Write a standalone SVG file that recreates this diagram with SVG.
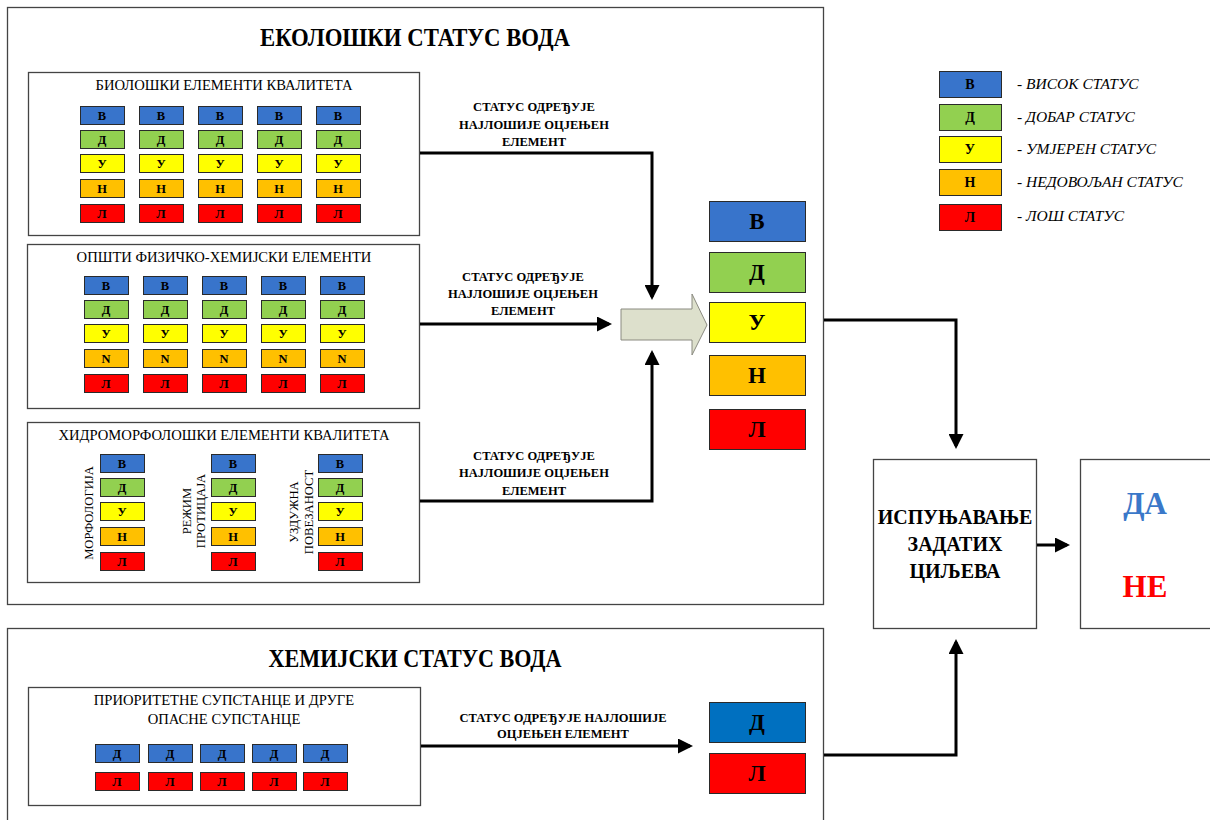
<svg xmlns="http://www.w3.org/2000/svg" width="1210" height="820" viewBox="0 0 1210 820">
<defs>
<style>
text{font-family:"Liberation Serif","DejaVu Serif",serif;fill:#000}
.frame{fill:#fff;stroke:#444;stroke-width:1.3}
.cell{stroke:#2a2a2a;stroke-width:1}
.b{fill:#3874CB}.g{fill:#92D050}.y{fill:#FFFF00}.o{fill:#FFC000}.r{fill:#FF0000}.cb{fill:#0070C0}
.ct{font-size:12.5px;font-weight:bold;text-anchor:middle}
.lt{font-size:14px;font-weight:bold;text-anchor:middle}
.big{font-size:23px;font-weight:bold;text-anchor:middle}
.title{font-size:25px;font-weight:bold;text-anchor:middle}
.sub{font-size:14.6px;text-anchor:middle}
.rot{font-size:12.6px;text-anchor:middle}
.lbl{font-size:12.5px;font-weight:bold;text-anchor:middle}
.leg{font-size:15.5px;font-style:italic}
.goal{font-size:20px;font-weight:bold;text-anchor:middle}
.con{fill:none;stroke:#000;stroke-width:3}
</style>
<marker id="ah" markerWidth="5" markerHeight="5" refX="4" refY="2.5" orient="auto" markerUnits="strokeWidth">
<path d="M0,0 L5,2.5 L0,5 z" fill="#000"/>
</marker>
</defs>
<rect width="1210" height="820" fill="#fff"/>

<g id="eco-status">
<rect class="frame" x="7.5" y="7.5" width="816" height="597"/>
<text class="title" x="415" y="46" textLength="310" lengthAdjust="spacingAndGlyphs">ЕКОЛОШКИ СТАТУС ВОДА</text>
</g>

<g id="bio">
<rect class="frame" x="28.5" y="72.5" width="391" height="163"/>
<text class="sub" x="224" y="90">БИОЛОШКИ ЕЛЕМЕНТИ КВАЛИТЕТА</text>
<g id="bio-cells">
<rect class="cell b" x="80.5" y="106.5" width="44" height="18"/><rect class="cell b" x="139.5" y="106.5" width="44" height="18"/><rect class="cell b" x="198.5" y="106.5" width="44" height="18"/><rect class="cell b" x="257.5" y="106.5" width="44" height="18"/><rect class="cell b" x="316.5" y="106.5" width="44" height="18"/>
<rect class="cell g" x="80.5" y="130.5" width="44" height="18"/><rect class="cell g" x="139.5" y="130.5" width="44" height="18"/><rect class="cell g" x="198.5" y="130.5" width="44" height="18"/><rect class="cell g" x="257.5" y="130.5" width="44" height="18"/><rect class="cell g" x="316.5" y="130.5" width="44" height="18"/>
<rect class="cell y" x="80.5" y="154.5" width="44" height="18"/><rect class="cell y" x="139.5" y="154.5" width="44" height="18"/><rect class="cell y" x="198.5" y="154.5" width="44" height="18"/><rect class="cell y" x="257.5" y="154.5" width="44" height="18"/><rect class="cell y" x="316.5" y="154.5" width="44" height="18"/>
<rect class="cell o" x="80.5" y="179.5" width="44" height="18"/><rect class="cell o" x="139.5" y="179.5" width="44" height="18"/><rect class="cell o" x="198.5" y="179.5" width="44" height="18"/><rect class="cell o" x="257.5" y="179.5" width="44" height="18"/><rect class="cell o" x="316.5" y="179.5" width="44" height="18"/>
<rect class="cell r" x="80.5" y="204.5" width="44" height="18"/><rect class="cell r" x="139.5" y="204.5" width="44" height="18"/><rect class="cell r" x="198.5" y="204.5" width="44" height="18"/><rect class="cell r" x="257.5" y="204.5" width="44" height="18"/><rect class="cell r" x="316.5" y="204.5" width="44" height="18"/>
<text class="ct" x="102" y="120">В</text><text class="ct" x="161" y="120">В</text><text class="ct" x="220" y="120">В</text><text class="ct" x="279" y="120">В</text><text class="ct" x="338" y="120">В</text>
<text class="ct" x="102" y="144">Д</text><text class="ct" x="161" y="144">Д</text><text class="ct" x="220" y="144">Д</text><text class="ct" x="279" y="144">Д</text><text class="ct" x="338" y="144">Д</text>
<text class="ct" x="102" y="168">У</text><text class="ct" x="161" y="168">У</text><text class="ct" x="220" y="168">У</text><text class="ct" x="279" y="168">У</text><text class="ct" x="338" y="168">У</text>
<text class="ct" x="102" y="193">Н</text><text class="ct" x="161" y="193">Н</text><text class="ct" x="220" y="193">Н</text><text class="ct" x="279" y="193">Н</text><text class="ct" x="338" y="193">Н</text>
<text class="ct" x="102" y="218">Л</text><text class="ct" x="161" y="218">Л</text><text class="ct" x="220" y="218">Л</text><text class="ct" x="279" y="218">Л</text><text class="ct" x="338" y="218">Л</text>
</g>
</g>

<g id="physchem">
<rect class="frame" x="27.5" y="244.5" width="392" height="164"/>
<text class="sub" x="224" y="262">ОПШТИ ФИЗИЧКО-ХЕМИЈСКИ ЕЛЕМЕНТИ</text>
<g id="phys-cells">
<rect class="cell b" x="84.5" y="276.5" width="44" height="18"/><rect class="cell b" x="143.5" y="276.5" width="44" height="18"/><rect class="cell b" x="202.5" y="276.5" width="44" height="18"/><rect class="cell b" x="261.5" y="276.5" width="44" height="18"/><rect class="cell b" x="320.5" y="276.5" width="44" height="18"/>
<rect class="cell g" x="84.5" y="300.5" width="44" height="18"/><rect class="cell g" x="143.5" y="300.5" width="44" height="18"/><rect class="cell g" x="202.5" y="300.5" width="44" height="18"/><rect class="cell g" x="261.5" y="300.5" width="44" height="18"/><rect class="cell g" x="320.5" y="300.5" width="44" height="18"/>
<rect class="cell y" x="84.5" y="324.5" width="44" height="18"/><rect class="cell y" x="143.5" y="324.5" width="44" height="18"/><rect class="cell y" x="202.5" y="324.5" width="44" height="18"/><rect class="cell y" x="261.5" y="324.5" width="44" height="18"/><rect class="cell y" x="320.5" y="324.5" width="44" height="18"/>
<rect class="cell o" x="84.5" y="349.5" width="44" height="18"/><rect class="cell o" x="143.5" y="349.5" width="44" height="18"/><rect class="cell o" x="202.5" y="349.5" width="44" height="18"/><rect class="cell o" x="261.5" y="349.5" width="44" height="18"/><rect class="cell o" x="320.5" y="349.5" width="44" height="18"/>
<rect class="cell r" x="84.5" y="374.5" width="44" height="18"/><rect class="cell r" x="143.5" y="374.5" width="44" height="18"/><rect class="cell r" x="202.5" y="374.5" width="44" height="18"/><rect class="cell r" x="261.5" y="374.5" width="44" height="18"/><rect class="cell r" x="320.5" y="374.5" width="44" height="18"/>
<text class="ct" x="106" y="290">В</text><text class="ct" x="165" y="290">В</text><text class="ct" x="224" y="290">В</text><text class="ct" x="283" y="290">В</text><text class="ct" x="342" y="290">В</text>
<text class="ct" x="106" y="314">Д</text><text class="ct" x="165" y="314">Д</text><text class="ct" x="224" y="314">Д</text><text class="ct" x="283" y="314">Д</text><text class="ct" x="342" y="314">Д</text>
<text class="ct" x="106" y="338">У</text><text class="ct" x="165" y="338">У</text><text class="ct" x="224" y="338">У</text><text class="ct" x="283" y="338">У</text><text class="ct" x="342" y="338">У</text>
<text class="ct" x="106" y="363">N</text><text class="ct" x="165" y="363">N</text><text class="ct" x="224" y="363">N</text><text class="ct" x="283" y="363">N</text><text class="ct" x="342" y="363">N</text>
<text class="ct" x="106" y="388">Л</text><text class="ct" x="165" y="388">Л</text><text class="ct" x="224" y="388">Л</text><text class="ct" x="283" y="388">Л</text><text class="ct" x="342" y="388">Л</text>
</g>
</g>

<g id="hydromorph">
<rect class="frame" x="27.5" y="422.5" width="392" height="160"/>
<text class="sub" x="224" y="440">ХИДРОМОРФОЛОШКИ ЕЛЕМЕНТИ КВАЛИТЕТА</text>
<text class="rot" transform="translate(93,513) rotate(-90)">МОРФОЛОГИЈА</text>
<text class="rot" transform="translate(191,511) rotate(-90)">РЕЖИМ</text>
<text class="rot" transform="translate(205,511) rotate(-90)">ПРОТИЦАЈА</text>
<text class="rot" transform="translate(298,512) rotate(-90)">УЗДУЖНА</text>
<text class="rot" transform="translate(313,512) rotate(-90)">ПОВЕЗАНОСТ</text>
<g id="hydro-cells">
<rect class="cell b" x="100.5" y="454.5" width="44" height="18"/><rect class="cell b" x="211.5" y="454.5" width="44" height="18"/><rect class="cell b" x="318.5" y="454.5" width="44" height="18"/>
<rect class="cell g" x="100.5" y="478.5" width="44" height="18"/><rect class="cell g" x="211.5" y="478.5" width="44" height="18"/><rect class="cell g" x="318.5" y="478.5" width="44" height="18"/>
<rect class="cell y" x="100.5" y="502.5" width="44" height="18"/><rect class="cell y" x="211.5" y="502.5" width="44" height="18"/><rect class="cell y" x="318.5" y="502.5" width="44" height="18"/>
<rect class="cell o" x="100.5" y="527.5" width="44" height="18"/><rect class="cell o" x="211.5" y="527.5" width="44" height="18"/><rect class="cell o" x="318.5" y="527.5" width="44" height="18"/>
<rect class="cell r" x="100.5" y="552.5" width="44" height="18"/><rect class="cell r" x="211.5" y="552.5" width="44" height="18"/><rect class="cell r" x="318.5" y="552.5" width="44" height="18"/>
<text class="ct" x="122" y="468">В</text><text class="ct" x="233" y="468">В</text><text class="ct" x="340" y="468">В</text>
<text class="ct" x="122" y="492">Д</text><text class="ct" x="233" y="492">Д</text><text class="ct" x="340" y="492">Д</text>
<text class="ct" x="122" y="516">У</text><text class="ct" x="233" y="516">У</text><text class="ct" x="340" y="516">У</text>
<text class="ct" x="122" y="541">Н</text><text class="ct" x="233" y="541">Н</text><text class="ct" x="340" y="541">Н</text>
<text class="ct" x="122" y="566">Л</text><text class="ct" x="233" y="566">Л</text><text class="ct" x="340" y="566">Л</text>
</g>
</g>

<g id="block-arrow">
<path d="M621,309 L692,309 L692,294 L707,325 L692,355 L692,340 L621,340 Z" fill="#DDE0CC" stroke="#8a8a80" stroke-width="1"/>
</g>

<g id="eco-result">
<rect class="cell b" x="709.5" y="201.5" width="96" height="40"/>
<rect class="cell g" x="709.5" y="252.5" width="96" height="40"/>
<rect class="cell y" x="709.5" y="302.5" width="96" height="40"/>
<rect class="cell o" x="709.5" y="355.5" width="96" height="40"/>
<rect class="cell r" x="709.5" y="409.5" width="96" height="40"/>
<text class="big" x="757" y="229">В</text>
<text class="big" x="757" y="280">Д</text>
<text class="big" x="757" y="330">У</text>
<text class="big" x="757" y="383">Н</text>
<text class="big" x="757" y="437">Л</text>
</g>

<g id="legend">
<rect class="cell b" x="939.5" y="71.5" width="62" height="26"/>
<rect class="cell g" x="939.5" y="104.5" width="62" height="26"/>
<rect class="cell y" x="939.5" y="136.5" width="62" height="26"/>
<rect class="cell o" x="939.5" y="169.5" width="62" height="26"/>
<rect class="cell r" x="939.5" y="204.5" width="62" height="26"/>
<text class="lt" x="970" y="89">В</text>
<text class="lt" x="970" y="122">Д</text>
<text class="lt" x="970" y="154">У</text>
<text class="lt" x="970" y="187">Н</text>
<text class="lt" x="970" y="222">Л</text>
<text class="leg" x="1017" y="89">- ВИСОК СТАТУС</text>
<text class="leg" x="1017" y="122">- ДОБАР СТАТУС</text>
<text class="leg" x="1017" y="154">- УМЈЕРЕН СТАТУС</text>
<text class="leg" x="1017" y="187">- НЕДОВОЉАН СТАТУС</text>
<text class="leg" x="1017" y="221">- ЛОШ СТАТУС</text>
</g>

<g id="goal">
<rect class="frame" x="873.5" y="459.5" width="163" height="169"/>
<text class="goal" x="955" y="524">ИСПУЊАВАЊЕ</text>
<text class="goal" x="955" y="551">ЗАДАТИХ</text>
<text class="goal" x="955" y="578">ЦИЉЕВА</text>
</g>

<g id="yes-no">
<rect class="frame" x="1080.5" y="459.5" width="135" height="169"/>
<text x="1145" y="514" font-size="31" font-weight="bold" text-anchor="middle" style="fill:#3A78C9">ДА</text>
<text x="1145" y="597" font-size="31" font-weight="bold" text-anchor="middle" style="fill:#FF0000">НЕ</text>
</g>

<g id="chem-status">
<rect class="frame" x="7.5" y="628.5" width="816" height="200"/>
<text class="title" x="415" y="667" textLength="293" lengthAdjust="spacingAndGlyphs">ХЕМИЈСКИ СТАТУС ВОДА</text>
</g>

<g id="priority">
<rect class="frame" x="28.5" y="687.5" width="392" height="118"/>
<text class="sub" x="224" y="705">ПРИОРИТЕТНЕ СУПСТАНЦЕ И ДРУГЕ</text>
<text class="sub" x="224" y="724">ОПАСНЕ СУПСТАНЦЕ</text>
<rect class="cell b" x="95.5" y="744.5" width="44" height="18"/><rect class="cell b" x="148.5" y="744.5" width="44" height="18"/><rect class="cell b" x="200.5" y="744.5" width="44" height="18"/><rect class="cell b" x="252.5" y="744.5" width="44" height="18"/><rect class="cell b" x="303.5" y="744.5" width="44" height="18"/>
<rect class="cell r" x="95.5" y="772.5" width="44" height="18"/><rect class="cell r" x="148.5" y="772.5" width="44" height="18"/><rect class="cell r" x="200.5" y="772.5" width="44" height="18"/><rect class="cell r" x="252.5" y="772.5" width="44" height="18"/><rect class="cell r" x="303.5" y="772.5" width="44" height="18"/>
<text class="ct" x="117" y="758">Д</text><text class="ct" x="170" y="758">Д</text><text class="ct" x="222" y="758">Д</text><text class="ct" x="274" y="758">Д</text><text class="ct" x="325" y="758">Д</text>
<text class="ct" x="117" y="786">Л</text><text class="ct" x="170" y="786">Л</text><text class="ct" x="222" y="786">Л</text><text class="ct" x="274" y="786">Л</text><text class="ct" x="325" y="786">Л</text>
</g>

<g id="chem-result">
<rect class="cell cb" x="709.5" y="702.5" width="96" height="40"/>
<rect class="cell r" x="709.5" y="753.5" width="96" height="40"/>
<text class="big" x="757" y="730">Д</text>
<text class="big" x="757" y="781">Л</text>
</g>

<g id="connectors">
<polyline class="con" points="420,153 652,153 652,297" marker-end="url(#ah)"/>
<polyline class="con" points="420,324 609,324" marker-end="url(#ah)"/>
<polyline class="con" points="420,501 652,501 652,353" marker-end="url(#ah)"/>
<polyline class="con" points="824,320 956,320 956,446" marker-end="url(#ah)"/>
<polyline class="con" points="824,755 956,755 956,642" marker-end="url(#ah)"/>
<polyline class="con" points="1037,545 1067,545" marker-end="url(#ah)"/>
<polyline class="con" points="421,746 690,746" marker-end="url(#ah)"/>
<text class="lbl" x="534" y="111">СТАТУС ОДРЕЂУЈЕ</text>
<text class="lbl" x="534" y="129">НАЈЛОШИЈЕ ОЦЈЕЊЕН</text>
<text class="lbl" x="534" y="146">ЕЛЕМЕНТ</text>
<text class="lbl" x="523" y="281">СТАТУС ОДРЕЂУЈЕ</text>
<text class="lbl" x="523" y="298">НАЈЛОШИЈЕ ОЦЈЕЊЕН</text>
<text class="lbl" x="523" y="315">ЕЛЕМЕНТ</text>
<text class="lbl" x="534" y="460">СТАТУС ОДРЕЂУЈЕ</text>
<text class="lbl" x="534" y="477">НАЈЛОШИЈЕ ОЦЈЕЊЕН</text>
<text class="lbl" x="534" y="495">ЕЛЕМЕНТ</text>
<text class="lbl" x="563" y="722">СТАТУС ОДРЕЂУЈЕ НАЈЛОШИЈЕ</text>
<text class="lbl" x="563" y="738">ОЦЈЕЊЕН ЕЛЕМЕНТ</text>
</g>
</svg>
